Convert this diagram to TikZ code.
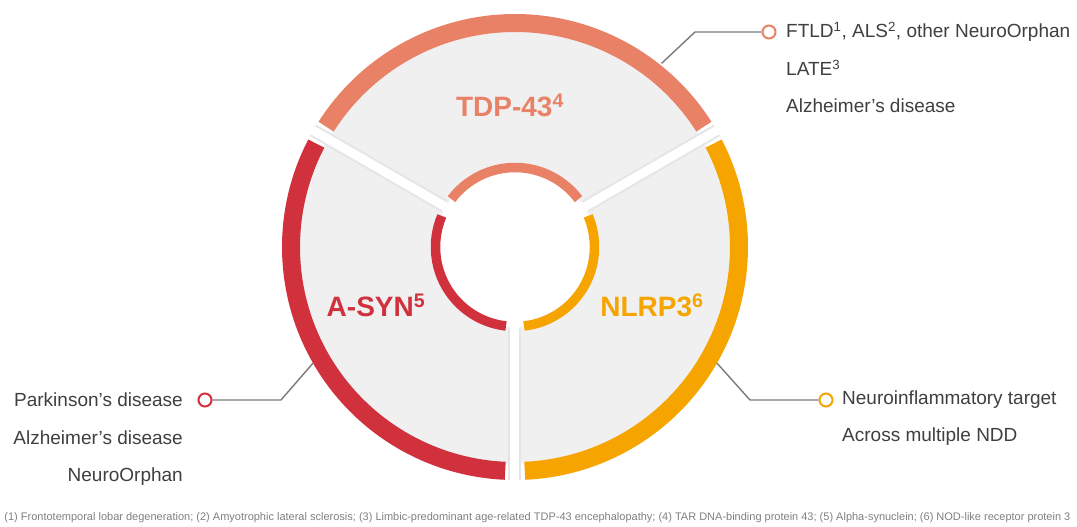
\documentclass[tikz,border=0pt]{standalone}
\usepackage{fontspec}
\setmainfont{Liberation Sans}
\usetikzlibrary{positioning}
\definecolor{tdpcol}{HTML}{E98166}
\definecolor{syncol}{HTML}{D1303D}
\definecolor{nlrcol}{HTML}{F6A400}
\definecolor{txtcol}{HTML}{3F3F3F}
\definecolor{linecol}{HTML}{7A7A7A}
\definecolor{discol}{HTML}{F0F0F0}
\begin{document}
\begin{tikzpicture}[x=1pt,y=1pt,
 title/.style={font=\fontsize{28}{30}\selectfont\bfseries},
 item/.style={font=\fontsize{19}{21}\selectfont, text=txtcol, inner sep=0pt},
 marker/.style={circle, draw, line width=2pt, fill=white, minimum size=13pt, inner sep=0pt},
 lead/.style={draw=linecol, line width=1.4pt}]
 \useasboundingbox (-515,247) rectangle (562,-280);
 %
 \fill[discol] (0,0) circle (216);
 \fill[white] (0,0) circle (80);
 %
 \draw[tdpcol, line width=18pt] (32.5:224) arc (32.5:147.5:224);
 \draw[syncol, line width=18pt] (152.5:224) arc (152.5:267.5:224);
 \draw[nlrcol, line width=18pt] (272.5:224) arc (272.5:387.5:224);
 %
 \draw[tdpcol, line width=9.5pt] (37:79.5) arc (37:143:79.5);
 \draw[syncol, line width=9.5pt] (157:79.5) arc (157:263.5:79.5);
 \draw[nlrcol, line width=9.5pt] (276.5:79.5) arc (276.5:383:79.5);
 %
 \foreach \a in {30,150,270}{
  \draw[black!10, line width=13pt] (\a:82) -- (\a:233);
  \draw[white, line width=9pt] (\a:80) -- (\a:234);
 }
 %
 \node[title, text=tdpcol] (tdp) at (-5,142) {TDP-43\textsuperscript{4}};
 \node[title, text=syncol] (syn) at (-139,-58) {A-SYN\textsuperscript{5}};
 \node[title, text=nlrcol] (nlr) at (137,-58) {NLRP3\textsuperscript{6}};
 %
 \coordinate (ringT) at (51.4:235);
 \coordinate (bendT) at (180,215);
 \node[marker, draw=tdpcol] (mT) at (254,215) {};
 \draw[lead] (ringT) -- (bendT) -- (mT);
 \node[item, anchor=west] (tT1) at (271,215) {FTLD\textsuperscript{1}, ALS\textsuperscript{2}, other NeuroOrphan};
 \node[item, anchor=west] (tT2) at (271,179) {LATE\textsuperscript{3}};
 \node[item, anchor=west] (tT3) at (271,141) {Alzheimer’s disease};
 %
 \coordinate (ringS) at (209.9:233);
 \coordinate (bendS) at (-234,-153);
 \node[marker, draw=syncol] (mS) at (-310,-153) {};
 \draw[lead] (ringS) -- (bendS) -- (mS);
 \node[item, anchor=east] (tS1) at (-332,-153) {Parkinson’s disease};
 \node[item, anchor=east] (tS2) at (-332,-191) {Alzheimer’s disease};
 \node[item, anchor=east] (tS3) at (-332,-230) {NeuroOrphan};
 %
 \coordinate (ringN) at (-29.9:233);
 \coordinate (bendN) at (235,-153);
 \node[marker, draw=nlrcol] (mN) at (311,-153) {};
 \draw[lead] (ringN) -- (bendN) -- (mN);
 \node[item, anchor=west] (tN1) at (327,-153) {Neuroinflammatory target};
 \node[item, anchor=west] (tN2) at (327,-190) {Across multiple NDD};
 %
 \node[font=\fontsize{11}{13}\selectfont, text=black!50, inner sep=0pt] (notes) at (22.5,-271)
  {(1) Frontotemporal lobar degeneration; (2) Amyotrophic lateral sclerosis; (3) Limbic-predominant age-related TDP-43 encephalopathy; (4) TAR DNA-binding protein 43; (5) Alpha-synuclein; (6) NOD-like receptor protein 3};
\end{tikzpicture}
\end{document}
